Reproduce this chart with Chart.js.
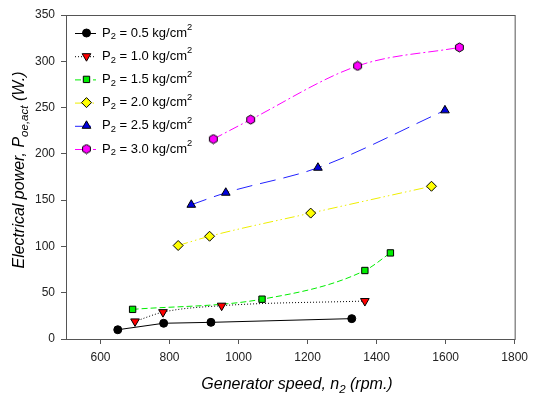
<!DOCTYPE html>
<html>
<head>
<meta charset="utf-8">
<script src="https://cdn.jsdelivr.net/npm/chart.js@4.4.0/dist/chart.umd.min.js"></script>
<style>
  html, body { margin: 0; padding: 0; background: #fff; }
  #wrap { width: 534px; height: 396px; position: relative; }
</style>
</head>
<body>
<div id="wrap"><canvas id="grafico" width="534" height="396"></canvas></div>
<script>
// dados
const pressoes = ['0.5', '1.0', '1.5', '2.0', '2.5', '3.0'];

const rpm05 = [650, 783, 920, 1328];
const pot05 = [10, 17, 18, 22];
const rpm10 = [700, 781, 951, 1366];
const pot10 = [19, 29, 36, 41];
const rpm15 = [693, 1068, 1366, 1440];
const pot15 = [32, 43, 74, 93];
const rpm20 = [825, 916, 1209, 1559];
const pot20 = [101, 111, 136, 165];
const rpm25 = [863, 963, 1230, 1598];
const pot25 = [145, 158, 185, 247];
const rpm30 = [927, 1035, 1345, 1640];
const pot30 = [216, 237, 295, 315];

const ticksX = [600, 800, 1000, 1200, 1400, 1600, 1800];
const ticksY = [0, 50, 100, 150, 200, 250, 300, 350];

const fonte = '"Liberation Sans", Arial, sans-serif';

// hexagono para a serie 3.0
function criarHexagono(r, cor) {
    const c = document.createElement('canvas');
    const s = Math.ceil(r * 2 + 2);
    c.width = s; c.height = s;
    const g = c.getContext('2d');
    g.beginPath();
    for (let i = 0; i < 6; i++) {
        const a = Math.PI / 6 + i * Math.PI / 3;
        const px = s / 2 + r * Math.cos(a), py = s / 2 + r * Math.sin(a);
        if (i === 0) g.moveTo(px, py); else g.lineTo(px, py);
    }
    g.closePath();
    g.fillStyle = cor; g.fill();
    g.lineWidth = 1; g.strokeStyle = '#000'; g.stroke();
    return c;
}
const hexagono = criarHexagono(4.5, '#ff00ff');

function pontos(xs, ys) {
    return xs.map((x, i) => ({ x: x, y: ys[i] }));
}

const series = [
    { x: rpm05, y: pot05, cor: '#000000', fundo: '#000000', estilo: 'circle', raio: 4, rot: 0, dash: [] },
    { x: rpm10, y: pot10, cor: '#000000', fundo: '#ff0000', estilo: 'triangle', raio: 5, rot: 180, dash: [1, 2], linha: '#000000' },
    { x: rpm15, y: pot15, cor: '#00ee00', fundo: '#00ee00', estilo: 'rect', raio: 4.5, rot: 0, dash: [6, 3] },
    { x: rpm20, y: pot20, cor: '#eeee00', fundo: '#ffff00', estilo: 'rectRot', raio: 5, rot: 0, dash: [10, 3, 1.5, 3, 1.5, 3] },
    { x: rpm25, y: pot25, cor: '#2222ff', fundo: '#0000dd', estilo: 'triangle', raio: 5, rot: 0, dash: [16, 8] },
    { x: rpm30, y: pot30, cor: '#ff00ff', fundo: '#ff00ff', estilo: hexagono, raio: 4.5, rot: 0, dash: [10, 3, 2, 3] }
];

const datasets = series.map((s, i) => ({
    label: 'P2 = ' + pressoes[i] + ' kg/cm2',
    data: pontos(s.x, s.y),
    borderColor: s.linha || s.cor,
    borderWidth: 1,
    borderDash: s.dash,
    backgroundColor: s.fundo,
    pointStyle: s.estilo,
    pointRotation: s.rot,
    pointRadius: s.raio,
    pointBorderColor: '#000',
    pointBackgroundColor: s.fundo,
    pointBorderWidth: 1,
    cubicInterpolationMode: i === 0 ? 'default' : 'monotone',
    tension: i === 0 ? 0 : 0.4,
    fill: false
}));

// texto com sub/sobrescrito
function textoRico(ctx, partes, x, y, tam) {
    let cx = x;
    partes.forEach(p => {
        const t = p.sub || p.sup ? tam * 0.72 : tam;
        ctx.font = (p.italico ? 'italic ' : '') + t + 'px ' + fonte;
        let dy = 0;
        if (p.sub) dy = tam * 0.3;
        if (p.sup) dy = -tam * 0.42;
        ctx.fillText(p.t, cx, y + dy);
        cx += ctx.measureText(p.t).width;
    });
    return cx - x;
}
function larguraRica(ctx, partes, tam) {
    let w = 0;
    partes.forEach(p => {
        const t = p.sub || p.sup ? tam * 0.72 : tam;
        ctx.font = (p.italico ? 'italic ' : '') + t + 'px ' + fonte;
        w += ctx.measureText(p.t).width;
    });
    return w;
}

const molduraELegenda = {
    id: 'molduraELegenda',
    afterDraw(chart) {
        const ctx = chart.ctx;
        const a = chart.chartArea;
        ctx.save();
        ctx.strokeStyle = '#555';
        ctx.lineWidth = 1;
        ctx.strokeRect(a.left + 0.5, a.top + 0.5, a.right - a.left, a.bottom - a.top);

        // legenda
        ctx.textBaseline = 'middle';
        ctx.fillStyle = '#000';
        series.forEach((s, i) => {
            const y = 33 + i * 23.2;
            ctx.save();
            ctx.strokeStyle = s.linha || s.cor;
            ctx.lineWidth = 1;
            ctx.setLineDash(s.dash);
            ctx.beginPath();
            ctx.moveTo(75, y + 0.5);
            ctx.lineTo(96, y + 0.5);
            ctx.stroke();
            ctx.restore();
            ctx.save();
            ctx.fillStyle = s.fundo;
            ctx.strokeStyle = '#000';
            ctx.lineWidth = 1;
            Chart.helpers.drawPoint(ctx, {
                pointStyle: s.estilo,
                rotation: s.rot,
                radius: s.raio,
                borderWidth: 1
            }, 86.5, y);
            ctx.restore();
            ctx.fillStyle = '#000';
            textoRico(ctx, [
                { t: 'P' }, { t: '2', sub: true }, { t: ' = ' + pressoes[i] + ' kg/cm' }, { t: '2', sup: true }
            ], 102, y, 13);
        });

        // titulos dos eixos
        const tituloX = [
            { t: 'Generator speed, n', italico: true }, { t: '2', sub: true, italico: true }, { t: ' (rpm.)', italico: true }
        ];
        const wx = larguraRica(ctx, tituloX, 16);
        textoRico(ctx, tituloX, 297 - wx / 2, 385, 16);

        const tituloY = [
            { t: 'Electrical power, P', italico: true }, { t: 'oe,act', sub: true, italico: true }, { t: ' (W.)', italico: true }
        ];
        const wy = larguraRica(ctx, tituloY, 16);
        ctx.translate(20, 170);
        ctx.rotate(-Math.PI / 2);
        textoRico(ctx, tituloY, -wy / 2, 0, 16);
        ctx.restore();
    }
};

new Chart(document.getElementById('grafico'), {
    type: 'line',
    data: { datasets: datasets },
    options: {
        responsive: false,
        animation: false,
        layout: { padding: { left: 6, right: 12, top: 15, bottom: 0 } },
        plugins: {
            legend: { display: false },
            tooltip: { enabled: false }
        },
        scales: {
            x: {
                type: 'linear',
                min: 500,
                max: 1800,
                afterBuildTicks: scale => { scale.ticks = ticksX.map(v => ({ value: v })); },
                afterFit: scale => { scale.height = 57; },
                grid: { drawOnChartArea: false, drawTicks: true, tickLength: 5, color: '#555' },
                border: { display: true, color: '#555' },
                ticks: {
                    color: '#222',
                    padding: 6,
                    maxRotation: 0,
                    callback: v => String(v),
                    font: { family: fonte, size: 12 }
                }
            },
            y: {
                type: 'linear',
                min: 0,
                max: 350,
                afterBuildTicks: scale => { scale.ticks = ticksY.map(v => ({ value: v })); },
                afterFit: scale => { scale.width = 60; },
                grid: { drawOnChartArea: false, drawTicks: true, tickLength: 5, color: '#555' },
                border: { display: true, color: '#555' },
                ticks: {
                    color: '#222',
                    padding: 6,
                    callback: v => String(v),
                    font: { family: fonte, size: 12 }
                }
            }
        }
    },
    plugins: [molduraELegenda]
});
</script>
</body>
</html>
